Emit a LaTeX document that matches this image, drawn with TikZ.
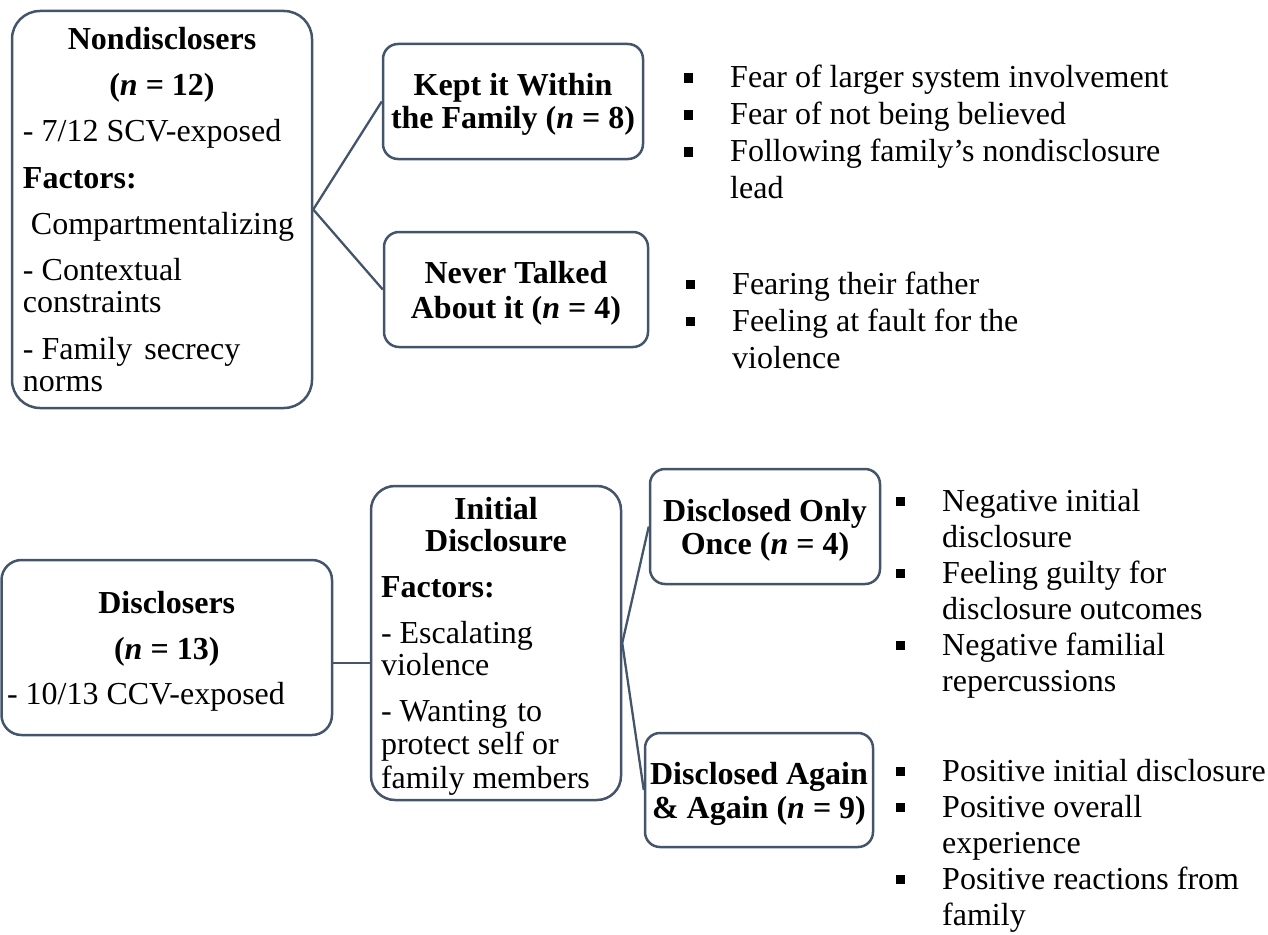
\documentclass[tikz,border=0pt]{standalone}
\usepackage{fontspec}
\setmainfont{Liberation Serif}
\usetikzlibrary{calc}
\definecolor{bordc}{HTML}{44546A}
\newcommand\ctr[1]{\hspace*{0pt plus 1filll}#1\hspace*{0pt plus 1filll}\null}
\newcommand\bul{\makebox[46.5pt][l]{\raisebox{5pt}{\rule{9.5pt}{9.5pt}}}}
\newcommand\ind{\hspace*{46.5pt}}
\newcommand\fst[1][8pt]{\rule[-0.3\baselineskip]{0pt}{\dimexpr\baselineskip+#1\relax}}
\begin{document}
\begin{tikzpicture}[x=1pt,y=-1pt,
  box/.style={draw=bordc, line width=2.5pt, rounded corners=#1, inner sep=0pt,
    font=\fontsize{32}{32}\selectfont\parindent0pt, text=black},
  conn/.style={draw=bordc, line width=2.3pt},
  blist/.style={anchor=west, inner sep=0pt, align=left, font=\fontsize{32}{#1}\selectfont},
  blist/.default=36]
\useasboundingbox (0,0) rectangle (1268,934);

% ---------- Nondisclosers ----------
\node[box=28pt, minimum width=300pt, minimum height=397pt, text width=278pt, align=flush left] (nd) at (162,209.5)
 {\fst[10pt]\ctr{\textbf{Nondisclosers}}\\[14pt]
  \strut\ctr{\textbf{(\textit{n} = 12)}}\\[14pt]
  \strut- 7/12 SCV-exposed\\[15pt]
  \strut\textbf{Factors:}\\[14pt]
  \strut\hspace*{8pt}Compartmentalizing\\[14pt]
  \strut- Contextual\\
  \strut constraints\\[15pt]
  \strut- Family\hspace{12pt}secrecy\\
  \strut norms};

\node[box=15pt, minimum width=260pt, minimum height=115pt, align=center,
  font=\fontsize{32}{33}\selectfont\bfseries] (kept) at (513,101.5)
 {\fst Kept it Within\\\strut the Family (\textit{n} = 8)};
\node[box=15pt, minimum width=264pt, minimum height=115pt, align=center,
  font=\fontsize{32}{35}\selectfont\bfseries] (never) at (516,289.5)
 {\fst Never Talked\\\strut About it (\textit{n} = 4)};

\draw[conn] (nd.east) -- (kept.west);
\draw[conn] (nd.east) -- (never.west);

\node[blist=37] (la) at (683.5,136)
 {\strut\bul Fear of larger system involvement\\
  \strut\bul Fear of not being believed\\
  \strut\bul Following family’s nondisclosure\\
  \strut\ind lead};
\node[blist=37] (lb) at (685.5,324)
 {\strut\bul Fearing their father\\
  \strut\bul Feeling at fault for the\\
  \strut\ind violence};

% ---------- Disclosers ----------
\node[box=20pt, minimum width=330.5pt, minimum height=175pt, text width=319.5pt, align=flush left] (ds) at (166.75,647.5)
 {\fst[10pt]\ctr{\textbf{Disclosers}}\\[14pt]
  \strut\ctr{\textbf{(\textit{n} = 13)}}\\[13pt]
  \strut- 10/13 CCV-exposed};

\node[box=24pt, minimum width=250pt, minimum height=314pt, text width=230pt, align=flush left] (init) at (496,643)
 {\fst[9pt]\ctr{\textbf{Initial}}\\
  \strut\ctr{\textbf{Disclosure}}\\[14pt]
  \strut\textbf{Factors:}\\[14pt]
  \strut- Escalating\\
  \strut violence\\[14pt]
  \strut- Wanting\hspace{10pt}to\\
  \strut protect self or\\
  \strut family\hspace{8pt}members};

\node[box=15pt, minimum width=230pt, minimum height=115pt, align=center,
  font=\fontsize{32}{33}\selectfont\bfseries] (only) at (765,526.5)
 {\fst[9pt]Disclosed Only\\\strut Once (\textit{n} = 4)};
\node[box=15pt, minimum width=228pt, minimum height=114pt, align=center,
  font=\fontsize{32}{34}\selectfont\bfseries] (again) at (759,790)
 {\fst[10pt]Disclosed Again\\\strut\& Again (\textit{n} = 9)};

\coordinate (dj) at ($(ds.east)+(0,15.5)$);
\draw[conn] (dj) -- (dj -| init.west);
\draw[conn] (init.east) -- (only.west);
\draw[conn] (init.east) -- (again.west);

\node[blist] (lc) at (895.5,594)
 {\strut\bul Negative initial\\
  \strut\ind disclosure\\
  \strut\bul Feeling guilty for\\
  \strut\ind disclosure outcomes\\
  \strut\bul Negative familial\\
  \strut\ind repercussions};
\node[blist] (ld) at (895.5,846)
 {\strut\bul Positive initial disclosure\\
  \strut\bul Positive overall\\
  \strut\ind experience\\
  \strut\bul Positive reactions from\\
  \strut\ind family};
\end{tikzpicture}
\end{document}
